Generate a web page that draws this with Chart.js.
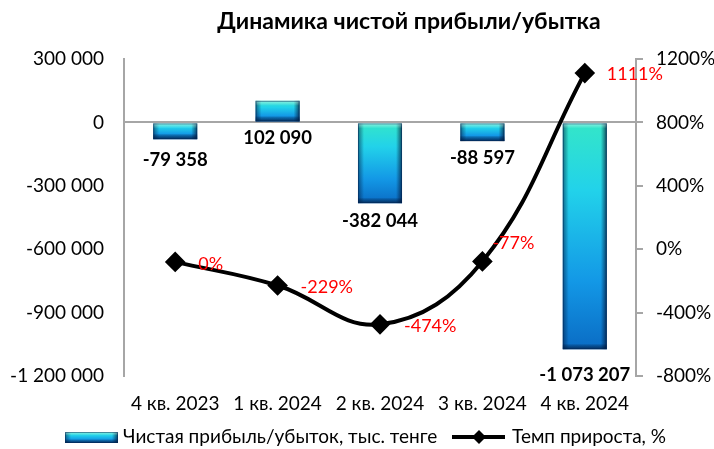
<!DOCTYPE html>
<html>
<head>
<meta charset="utf-8">
<script src="https://cdn.jsdelivr.net/npm/chart.js@4.4.1/dist/chart.umd.min.js"></script>
<style>
  html, body { margin: 0; padding: 0; background: #fff; }
</style>
</head>
<body>
<canvas id="chart" width="714" height="449"></canvas>
<script>
// Динамика чистой прибыли/убытка
const quarters = ['4 кв. 2023', '1 кв. 2024', '2 кв. 2024', '3 кв. 2024', '4 кв. 2024'];
const netProfit = [-79358, 102090, -382044, -88597, -1073207];
const growthRate = [-80, -229, -474, -77, 1111];
const growthLabels = ['0%', '-229%', '-474%', '-77%', '1111%'];
const leftTicks = [300000, 0, -300000, -600000, -900000, -1200000];
const rightTicks = [1200, 800, 400, 0, -400, -800];

const FONT = "Lato, 'Open Sans', sans-serif";
const AXIS_GREY = '#a6a6a6';

// сдвиги подписей (px) относительно точки/столбца
const barLabelShift = [21, 17, 18, 17, 26];
const lineLabelShift = [[23, 2], [23, 2], [24, 2], [10, -18], [22, 1]];

function fmt(n) {
    const s = Math.abs(n).toString().replace(/\B(?=(\d{3})+(?!\d))/g, ' ');
    return (n < 0 ? '-' : '') + s;
}

function makeGradient(ctx, top, bottom) {
    const g = ctx.createLinearGradient(0, top, 0, bottom);
    g.addColorStop(0, '#34e6c8');
    g.addColorStop(0.3, '#22d2ea');
    g.addColorStop(0.7, '#1398e6');
    g.addColorStop(1, '#0a6cc4');
    return g;
}

function barFill(context) {
    const chart = context.chart;
    if (!chart.chartArea || context.raw === undefined) return '#1aa8e4';
    const y = chart.scales.y;
    const top = y.getPixelForValue(Math.max(context.raw, 0));
    const bottom = y.getPixelForValue(Math.min(context.raw, 0));
    return makeGradient(chart.ctx, top, bottom);
}

function bevel(ctx, x0, y0, x1, y1) {
    const w = x1 - x0, h = y1 - y0, b = Math.min(5, h / 3);
    let g = ctx.createLinearGradient(x0, 0, x0 + 6, 0);
    g.addColorStop(0, 'rgba(0,25,60,0.55)');
    g.addColorStop(1, 'rgba(0,25,60,0)');
    ctx.fillStyle = g;
    ctx.fillRect(x0, y0, 6, h);
    g = ctx.createLinearGradient(x1 - 6, 0, x1, 0);
    g.addColorStop(0, 'rgba(0,15,45,0)');
    g.addColorStop(1, 'rgba(0,15,45,0.7)');
    ctx.fillStyle = g;
    ctx.fillRect(x1 - 6, y0, 6, h);
    g = ctx.createLinearGradient(0, y1 - b, 0, y1);
    g.addColorStop(0, 'rgba(0,20,50,0.15)');
    g.addColorStop(1, 'rgba(0,20,50,0.7)');
    ctx.fillStyle = g;
    ctx.fillRect(x0, y1 - b, w, b);
    g = ctx.createLinearGradient(0, y0, 0, y0 + b);
    g.addColorStop(0, 'rgba(255,255,255,0.45)');
    g.addColorStop(1, 'rgba(255,255,255,0)');
    ctx.fillStyle = g;
    ctx.fillRect(x0, y0, w, b);
    ctx.strokeStyle = 'rgba(0,40,90,0.5)';
    ctx.lineWidth = 1;
    ctx.strokeRect(x0 + 0.5, y0 + 0.5, w - 1, h - 1);
}

const bevelPlugin = {
    id: 'bevel',
    afterDatasetDraw(chart, args) {
        if (chart.data.datasets[args.index].type !== 'bar') return;
        const ctx = chart.ctx;
        ctx.save();
        args.meta.data.forEach(bar => {
            const top = Math.min(bar.y, bar.base), bottom = Math.max(bar.y, bar.base);
            bevel(ctx, bar.x - bar.width / 2, top, bar.x + bar.width / 2, bottom);
        });
        ctx.restore();
    }
};

const labelsPlugin = {
    id: 'valueLabels',
    afterDatasetsDraw(chart) {
        const ctx = chart.ctx;
        ctx.save();
        chart.data.datasets.forEach((ds, i) => {
            const meta = chart.getDatasetMeta(i);
            if (ds.type === 'bar') {
                ctx.font = 'bold 18.5px ' + FONT;
                ctx.fillStyle = '#000';
                ctx.textAlign = 'center';
                ctx.textBaseline = 'middle';
                meta.data.forEach((bar, j) => {
                    const bottom = Math.max(bar.y, bar.base);
                    ctx.fillText(fmt(ds.data[j]), bar.x, bottom + barLabelShift[j]);
                });
            } else {
                ctx.font = '18px ' + FONT;
                ctx.fillStyle = '#ff0000';
                ctx.textAlign = 'left';
                ctx.textBaseline = 'middle';
                meta.data.forEach((pt, j) => {
                    ctx.fillText(growthLabels[j], pt.x + lineLabelShift[j][0], pt.y + lineLabelShift[j][1]);
                });
            }
        });
        ctx.restore();
    }
};

const titlePlugin = {
    id: 'ownTitle',
    afterDraw(chart) {
        const ctx = chart.ctx;
        ctx.save();
        ctx.font = 'bold 23px ' + FONT;
        ctx.fillStyle = '#000';
        ctx.textAlign = 'center';
        ctx.textBaseline = 'middle';
        ctx.fillText('Динамика чистой прибыли/убытка', 409, 22);
        ctx.restore();
    }
};

const legendPlugin = {
    id: 'ownLegend',
    afterDraw(chart) {
        const ctx = chart.ctx;
        const y = 437;
        ctx.save();
        // столбцы
        ctx.fillStyle = makeGradient(ctx, 432, 443);
        ctx.fillRect(65, 432, 53, 11);
        bevel(ctx, 65, 432, 118, 443);
        ctx.font = '19px ' + FONT;
        ctx.fillStyle = '#000';
        ctx.textAlign = 'left';
        ctx.textBaseline = 'middle';
        ctx.fillText(chart.data.datasets[1].label, 123, y);
        // линия
        ctx.strokeStyle = '#000';
        ctx.lineWidth = 4;
        ctx.beginPath();
        ctx.moveTo(452, y);
        ctx.lineTo(505, y);
        ctx.stroke();
        ctx.beginPath();
        ctx.moveTo(479, y - 7);
        ctx.lineTo(486, y);
        ctx.lineTo(479, y + 7);
        ctx.lineTo(472, y);
        ctx.closePath();
        ctx.fill();
        ctx.fillText(chart.data.datasets[0].label, 512, y);
        ctx.restore();
    }
};

const ctx = document.getElementById('chart').getContext('2d');

new Chart(ctx, {
    data: {
        labels: quarters,
        datasets: [
            {
                type: 'line',
                label: 'Темп прироста, %',
                data: growthRate,
                yAxisID: 'y1',
                borderColor: '#000',
                borderWidth: 4,
                tension: 0.4,
                pointStyle: 'rectRot',
                pointRadius: 7.5,
                pointBackgroundColor: '#000',
                pointBorderColor: '#000',
                order: 0
            },
            {
                type: 'bar',
                label: 'Чистая прибыль/убыток, тыс. тенге',
                data: netProfit,
                yAxisID: 'y',
                backgroundColor: barFill,
                barPercentage: 0.43,
                categoryPercentage: 1,
                order: 1
            }
        ]
    },
    options: {
        responsive: false,
        animation: false,
        layout: { padding: { top: 59, bottom: 0, left: 0, right: 0 } },
        plugins: {
            legend: { display: false },
            title: { display: false },
            tooltip: { enabled: false }
        },
        scales: {
            x: {
                grid: { display: false, drawTicks: false },
                border: { display: false },
                ticks: { color: '#000', font: { family: FONT, size: 19 }, padding: 16 },
                afterFit(scale) { scale.height = 73; }
            },
            y: {
                position: 'left',
                min: -1200000,
                max: 300000,
                afterBuildTicks(scale) { scale.ticks = leftTicks.map(v => ({ value: v })); },
                ticks: {
                    color: '#000',
                    font: { family: FONT, size: 19 },
                    padding: 20,
                    callback: v => fmt(v)
                },
                grid: {
                    drawTicks: false,
                    lineWidth: 2,
                    color: c => (c.tick && c.tick.value === 0 ? AXIS_GREY : 'rgba(0,0,0,0)')
                },
                border: { color: AXIS_GREY, width: 2 },
                afterFit(scale) { scale.width = 124; }
            },
            y1: {
                position: 'right',
                min: -800,
                max: 1200,
                afterBuildTicks(scale) { scale.ticks = rightTicks.map(v => ({ value: v })); },
                ticks: {
                    color: '#000',
                    font: { family: FONT, size: 19 },
                    padding: 13,
                    callback: v => v + '%'
                },
                grid: { drawOnChartArea: false, tickLength: 7, color: AXIS_GREY, lineWidth: 2 },
                border: { color: AXIS_GREY, width: 2 },
                afterFit(scale) { scale.width = 78; }
            }
        }
    },
    plugins: [bevelPlugin, labelsPlugin, titlePlugin, legendPlugin]
});
</script>
</body>
</html>
